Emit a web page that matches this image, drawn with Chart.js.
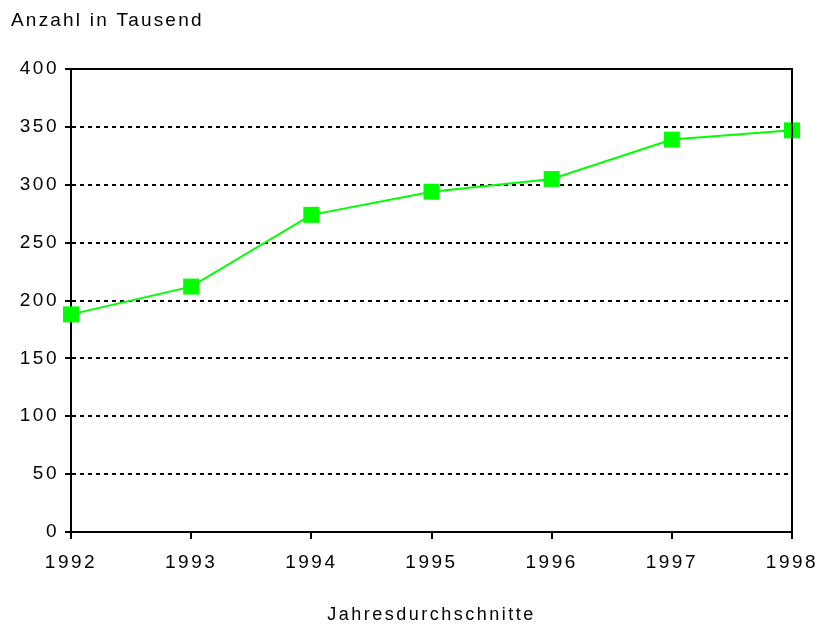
<!DOCTYPE html>
<html>
<head>
<meta charset="utf-8">
<script src="https://cdn.jsdelivr.net/npm/chart.js@4"></script>
<style>
  html, body { margin: 0; padding: 0; background: #fff; }
  #wrap { width: 819px; height: 630px; position: relative; }
</style>
</head>
<body>
<div id="wrap"><canvas id="chart"></canvas></div>
<script>
// values (thousands, yearly averages)
const years = ['1992', '1993', '1994', '1995', '1996', '1997', '1998'];
const counts = [188, 212, 274, 294, 305, 339, 347];
const yTicks = [0, 50, 100, 150, 200, 250, 300, 350, 400];

const yTitle = 'Anzahl in Tausend';
const xTitle = 'Jahresdurchschnitte';

const FONT = '"Liberation Sans", Arial, Helvetica, sans-serif';

// wide old-style glyph spacing + top-left axis caption + frame around plot
const decor = {
  id: 'decor',
  beforeDraw(chart) {
    chart.ctx.letterSpacing = '2.5px';
  },
  afterDraw(chart) {
    const { ctx, chartArea: a } = chart;
    ctx.save();
    ctx.strokeStyle = '#000';
    ctx.lineWidth = 2;
    ctx.beginPath();
    ctx.moveTo(a.left, a.top);
    ctx.lineTo(a.right, a.top);
    ctx.lineTo(a.right, a.bottom);
    ctx.stroke();
    ctx.fillStyle = '#000';
    ctx.font = '19px ' + FONT;
    ctx.letterSpacing = '2.2px';
    ctx.textBaseline = 'middle';
    ctx.textAlign = 'left';
    ctx.fillText(yTitle, 11, 21);
    ctx.restore();
  }
};

new Chart(document.getElementById('chart'), {
  type: 'line',
  data: {
    labels: years,
    datasets: [{
      data: counts,
      borderColor: '#00ff00',
      backgroundColor: '#00ff00',
      borderWidth: 2,
      tension: 0,
      pointStyle: 'rect',
      pointRadius: 11.3,
      pointHoverRadius: 11.3,
      pointBorderWidth: 0,
      clip: false
    }]
  },
  options: {
    responsive: true,
    maintainAspectRatio: false,
    animation: false,
    layout: { padding: { top: 69, right: 27, left: 0, bottom: 0 } },
    plugins: {
      legend: { display: false },
      tooltip: { enabled: false }
    },
    scales: {
      x: {
        offset: false,
        grid: {
          drawOnChartArea: false,
          drawTicks: true,
          tickLength: 7,
          color: '#000',
          lineWidth: 2
        },
        border: { color: '#000', width: 2 },
        ticks: {
          color: '#000',
          font: { family: FONT, size: 19 },
          padding: 12,
          maxRotation: 0,
          autoSkip: false
        },
        title: {
          display: true,
          text: xTitle,
          color: '#000',
          font: { family: FONT, size: 18 },
          padding: { top: 0, bottom: 4 }
        },
        afterFit(scale) {
          scale.height = 98;
          scale.paddingLeft = 0;
          scale.paddingRight = 0;
        }
      },
      y: {
        min: 0,
        max: 400,
        afterBuildTicks(scale) { scale.ticks = yTicks.map(v => ({ value: v })); },
        grid: {
          color: '#000',
          lineWidth: 2,
          tickLength: 6,
          tickBorderDash: [],
          drawTicks: true
        },
        border: { color: '#000', width: 2, dash: [4, 4] },
        ticks: {
          color: '#000',
          font: { family: FONT, size: 19 },
          padding: 6
        },
        afterFit(scale) {
          scale.width = 71;
          scale.paddingTop = 0;
          scale.paddingBottom = 0;
        }
      }
    }
  },
  plugins: [decor]
});
</script>
</body>
</html>
